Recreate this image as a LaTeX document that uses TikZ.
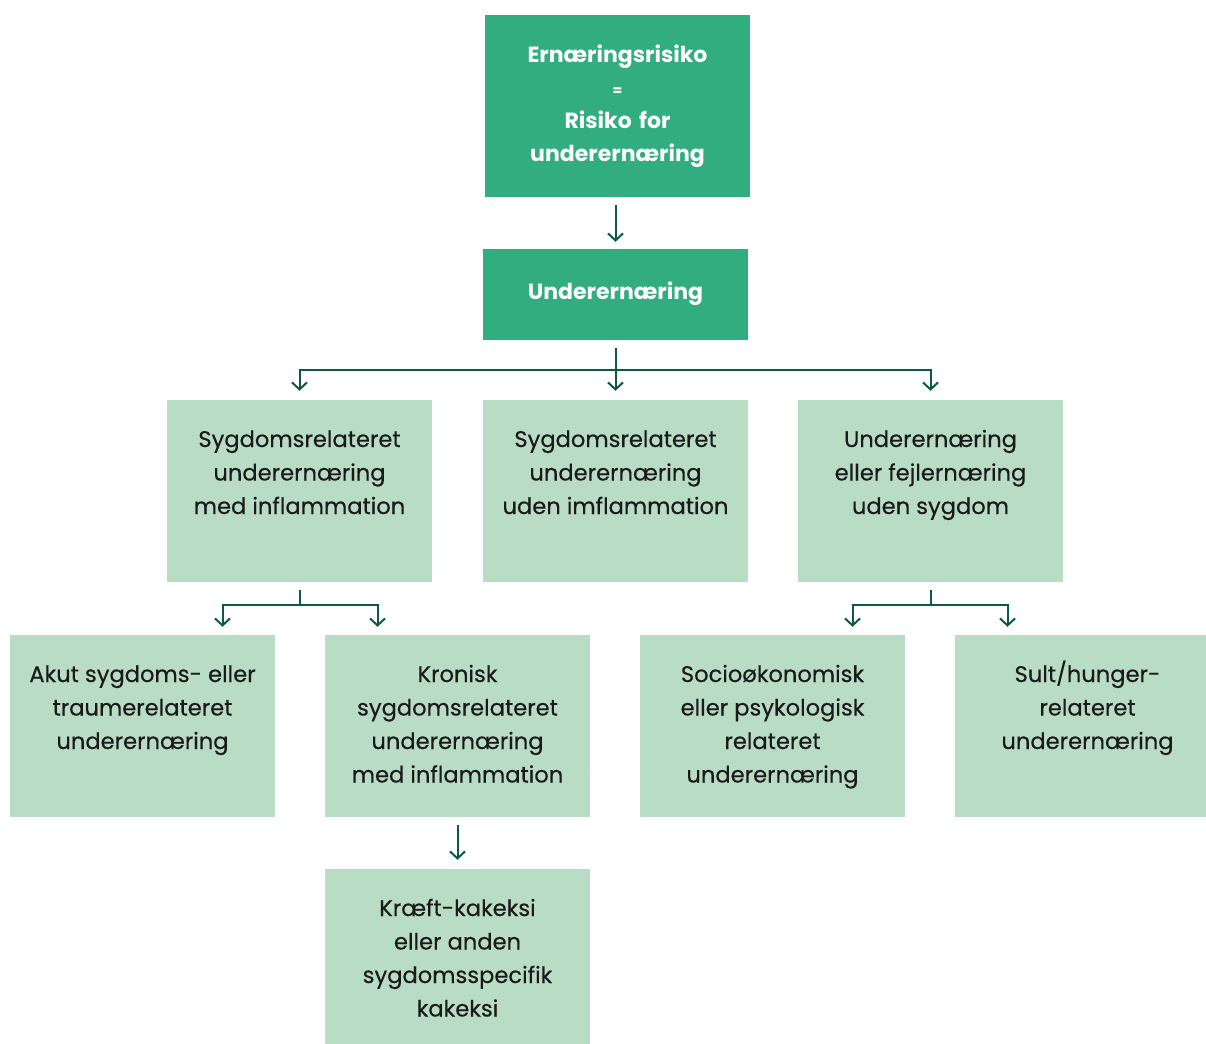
\documentclass[tikz,border=0pt]{standalone}
\usepackage{fontspec}
\setmainfont{Poppins}
\newfontfamily\medfont{Poppins}[FakeBold=0.35]
\usetikzlibrary{arrows.meta,calc}
\definecolor{boxdark}{HTML}{32AD80}
\definecolor{boxlight}{HTML}{B9DDC4}
\definecolor{linegreen}{HTML}{0D5B3E}
\definecolor{textdark}{HTML}{1A1A1A}
% top-aligned text block inside a 265x182 box; the rule fixes the first line height
\newcommand{\boxtext}[1]{\parbox[c][182pt][t]{265pt}{\centering\vspace*{24pt}\rule{0pt}{23pt}#1}}
\begin{document}
\begin{tikzpicture}[x=1pt,y=-1pt,
  darkbox/.style={fill=boxdark,text=white,inner sep=0pt,minimum width=265pt,
    align=center,text width=265pt,font=\bfseries\fontsize{22}{33}\selectfont},
  lightbox/.style={fill=boxlight,text=textdark,inner sep=0pt,minimum width=265pt,
    minimum height=182pt,font=\medfont\fontsize{22.6}{33.5}\selectfont},
  conn/.style={draw=linegreen,line width=2pt,-{Straight Barb[length=7pt,width=15pt,line width=2pt]},
    shorten <=8pt,shorten >=8pt}]
\clip (0,0) rectangle (1206,1043);

% top level
\node[darkbox,minimum height=182pt] (risk) at (617.5,106)
  {Ernæringsrisiko\\{\fontsize{14}{33}\selectfont =}\\Risiko for\\underernæring};
\node[darkbox,minimum height=91pt] (under) at (615.5,294.5) {\raisebox{7pt}{Underernæring}};

% second level
\node[lightbox] (inflam) at (299.5,491) {\boxtext{Sygdomsrelateret\\underernæring\\med inflammation}};
\node[lightbox] (noinflam) at (615.5,491) {\boxtext{Sygdomsrelateret\\underernæring\\uden imflammation}};
\node[lightbox] (nodisease) at (930.5,491) {\boxtext{Underernæring\\eller fejlernæring\\uden sygdom}};

% third level
\node[lightbox] (acute) at (142.5,726) {\boxtext{Akut sygdoms- eller\\traumerelateret\\underernæring}};
\node[lightbox] (chronic) at (457.5,726) {\boxtext{Kronisk\\sygdomsrelateret\\underernæring\\med inflammation}};
\node[lightbox] (socio) at (772.5,726) {\boxtext{Socioøkonomisk\\eller psykologisk\\relateret\\underernæring}};
\node[lightbox] (hunger) at (1087.5,726) {\boxtext{Sult/hunger-\\relateret\\underernæring}};

% fourth level
\node[lightbox] (cachexia) at (457.5,960) {\boxtext{Kræft-kakeksi\\eller anden\\sygdomsspecifik\\kakeksi}};

% junction points of the branching connectors
\coordinate (bus1) at ($(under.south)+(0,30)$);
\coordinate (bus2) at ($(inflam.south)+(0,23)$);
\coordinate (bus3) at ($(nodisease.south)+(0,23)$);
\coordinate (inA) at ($(acute.north)+(80,0)$);
\coordinate (inB) at ($(chronic.north)+(-80,0)$);
\coordinate (inC) at ($(socio.north)+(80,0)$);
\coordinate (inD) at ($(hunger.north)+(-80,0)$);

% connectors
\draw[conn,shorten >=7pt] (under.north |- risk.south) -- (under.north);
\draw[conn,shorten >=9pt] (under.south) -- (bus1) -| (inflam.north);
\draw[conn,shorten >=9pt] (under.south) -- (noinflam.north);
\draw[conn,shorten >=9pt] (under.south) -- (bus1) -| (nodisease.north);
\draw[conn] (inflam.south) -- (bus2) -| (inA);
\draw[conn] (inflam.south) -- (bus2) -| (inB);
\draw[conn] (nodisease.south) -- (bus3) -| (inC);
\draw[conn] (nodisease.south) -- (bus3) -| (inD);
\draw[conn,shorten >=9pt] (chronic.south) -- (cachexia.north);
\end{tikzpicture}
\end{document}
